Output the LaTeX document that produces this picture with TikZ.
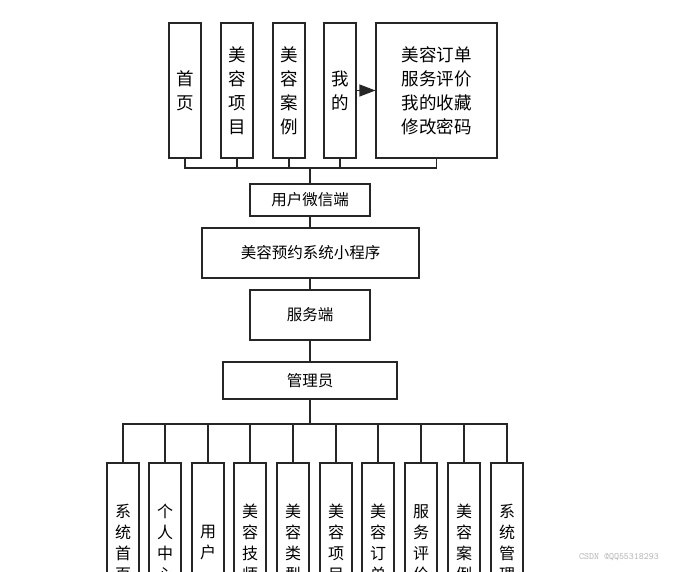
\documentclass[tikz,border=0pt]{standalone}
\usepackage{fontspec}
\setmainfont{Noto Sans CJK SC}
\usetikzlibrary{arrows.meta}
\begin{document}
\begin{tikzpicture}[x=1pt,y=-1pt,
  box/.style={draw=black!85,line width=1.1pt,rectangle,inner sep=0pt,fill=white},
  topbox/.style={box,minimum width=32pt,minimum height=135pt,align=center,font=\fontsize{17.5}{24}\selectfont},
  midbox/.style={box,font=\fontsize{15.5}{18}\selectfont},
  botbox/.style={box,minimum width=32pt,minimum height=160pt,align=center,font=\fontsize{16}{21}\selectfont},
  link/.style={draw=black!85,line width=1.1pt},
  wm/.style={text=black!30,font=\fontsize{9.5}{11}\selectfont\ttfamily}]
\useasboundingbox (0,0) rectangle (695,571);
\clip (0,0) rectangle (695,571);
% top boxes
\node[topbox] (t1) at (185,90.5) {首\\页};
\node[topbox] (t2) at (237,90.5) {美\\容\\项\\目};
\node[topbox] (t3) at (289,90.5) {美\\容\\案\\例};
\node[topbox] (t4) at (340,90.5) {我\\的};
\node[topbox,minimum width=121pt] (t5) at (436.5,90.5) {美容订单\\服务评价\\我的收藏\\修改密码};
\draw[link,-{Triangle[length=16pt,width=12pt]}] (t4.east) -- (t5.west);
% middle chain
\node[midbox,minimum width=120pt,minimum height=32pt] (wx) at (310,200) {用户微信端};
\node[midbox,minimum width=217pt,minimum height=50pt] (mr) at (310.5,253) {美容预约系统小程序};
\node[midbox,minimum width=120pt,minimum height=50pt] (fw) at (310,315) {服务端};
\node[midbox,minimum width=174pt,minimum height=37pt] (gl) at (310,380.5) {管理员};
\coordinate (topbus) at (310,168);
\foreach \n in {t1,t2,t3,t4,t5} {\draw[link] (\n.south) |- (topbus);}
\draw[link] (topbus) -- (wx.north);
\draw[link] (wx.south) -- (wx.south |- mr.north);
\draw[link] (mr.south -| fw.north) -- (fw.north);
\draw[link] (fw.south) -- (gl.north);
% bottom boxes
\node[botbox] (b1) at (123,543) {系\\统\\首\\页};
\node[botbox] (b2) at (165,543) {个\\人\\中\\心};
\node[botbox] (b3) at (208,543) {用\\户};
\node[botbox] (b4) at (250,543) {美\\容\\技\\师};
\node[botbox] (b5) at (293,543) {美\\容\\类\\型};
\node[botbox] (b6) at (336,543) {美\\容\\项\\目};
\node[botbox] (b7) at (378,543) {美\\容\\订\\单};
\node[botbox] (b8) at (421,543) {服\\务\\评\\价};
\node[botbox] (b9) at (464,543) {美\\容\\案\\例};
\node[botbox] (b10) at (507,543) {系\\统\\管\\理};
\coordinate (botbus) at (310,424);
\draw[link] (gl.south) -- (botbus);
\foreach \n in {b1,b2,b3,b4,b5,b6,b7,b8,b9,b10} {\draw[link] (botbus) -| (\n.north);}
\node[wm] (wmk) at (619,557) {CSDN @QQ55318293};
\end{tikzpicture}
\end{document}
